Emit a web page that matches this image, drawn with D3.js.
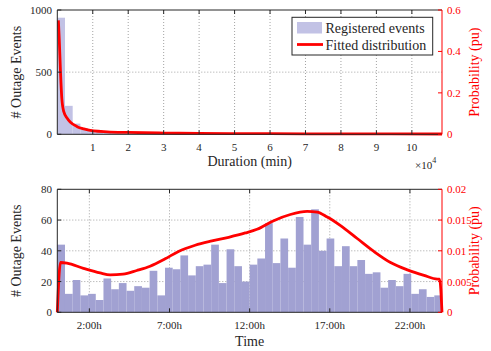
<!DOCTYPE html>
<html>
<head>
<meta charset="utf-8">
<script src="https://cdn.jsdelivr.net/npm/d3@7"></script>
<style>
  body { margin: 0; background: #fff; }
  svg { display: block; font-family: "Liberation Serif", "Times New Roman", serif; }
</style>
</head>
<body>
<svg id="chart" width="491" height="351"></svg>
<script>
// ---- data ----
// top: outage duration histogram (50 bins over 0..108500 min)
const durMax = 108500;
const durCounts = [938, 229, 86, 48, 30, 18, 12, 8, 6, 5, 4, 3, 3, 2, 2, 2, 1, 1, 1, 1,
  1, 1, 0, 1, 0, 0, 1, 0, 0, 0, 0, 1, 0, 0, 0, 0, 0, 0, 0, 0,
  0, 1, 0, 0, 0, 0, 0, 0, 0, 1];
const durFitX = [300, 540, 900, 1270, 1830, 2790, 3720, 5600, 7470, 10280, 14060, 20000, 30000, 40000, 60000, 80000, 108500];
const durFitY = [0.55, 0.463, 0.302, 0.174, 0.109, 0.077, 0.058, 0.037, 0.026, 0.016, 0.012, 0.009, 0.006, 0.004, 0.003, 0.002, 0.0015];
const durTicks = [10000, 20000, 30000, 40000, 50000, 60000, 70000, 80000, 90000, 100000];
const durCountTicks = [0, 500, 1000];
const durProbTicks = [0, 0.2, 0.4, 0.6];

// bottom: time of day histogram (50 bins over 0..24 h)
const timeCounts = [44, 12, 21, 11, 12, 8, 22, 15, 19, 14, 17, 16, 27, 11, 29, 28, 37, 24, 30, 31,
  44, 19, 41, 30, 20, 31, 35, 58, 32, 48, 29, 62, 44, 67, 40, 48, 30, 43, 30, 34,
  25, 26, 16, 21, 17, 25, 12, 15, 10, 11];
const timeFitX = [0, 0.2, 0.6, 1.63, 2.67, 3.3, 4.1, 4.96, 5.79, 6.73, 7.56, 8.6, 9.65, 10.69, 11.73,
  12.46, 13.5, 14.54, 15.59, 16.21, 16.84, 17.67, 18.71, 19.75, 20.79, 21.84, 22.88, 23.71, 23.85, 24];
const timeFitY = [0, 0.0081, 0.008, 0.00715, 0.0064, 0.0061, 0.0062, 0.0068, 0.0075, 0.0087, 0.0099, 0.0109, 0.0116, 0.0122, 0.0129,
  0.0135, 0.0149, 0.0159, 0.0164, 0.0163, 0.0155, 0.0141, 0.012, 0.0099, 0.0081, 0.0069, 0.006, 0.0054, 0.0054, 0];
const timeTicks = [2, 7, 12, 17, 22];
const timeTickLabels = ['2:00h', '7:00h', '12:00h', '17:00h', '22:00h'];
const timeCountTicks = [0, 20, 40, 60, 80];
const timeProbTicks = [0, 0.005, 0.01, 0.015, 0.02];

const svg = d3.select('#chart');
const axisColor = '#262626';
const red = '#ff0000';
const L = 57.3, R = 442;

function panel(o) {
  const g = svg.append('g');
  const x = d3.scaleLinear().domain(o.xDomain).range([L, R]);
  const y = d3.scaleLinear().domain(o.yDomain).range([o.bottom, o.top]);
  const y2 = d3.scaleLinear().domain(o.y2Domain).range([o.bottom, o.top]);

  // dotted grid (left axis only, like matlab)
  o.xTicks.forEach(t => {
    g.append('line').attr('x1', x(t)).attr('x2', x(t)).attr('y1', o.top).attr('y2', o.bottom)
      .attr('stroke', '#8c8c8c').attr('stroke-dasharray', '1,2').attr('stroke-width', 0.8);
  });
  o.yTicks.slice(1, -1).forEach(t => {
    g.append('line').attr('x1', L).attr('x2', R).attr('y1', y(t)).attr('y2', y(t))
      .attr('stroke', '#8c8c8c').attr('stroke-dasharray', '1,2').attr('stroke-width', 0.8);
  });

  // histogram bars
  const bw = (o.xDomain[1] - o.xDomain[0]) / o.counts.length;
  g.selectAll('rect.bar').data(o.counts).enter().append('rect')
    .attr('class', 'bar')
    .attr('x', (d, i) => x(i * bw))
    .attr('width', (d, i) => x((i + 1) * bw) - x(i * bw))
    .attr('y', d => y(d))
    .attr('height', d => y(0) - y(d))
    .attr('fill', o.barColor);

  // fitted curve on right axis
  const pts = o.fitX.map((v, i) => [v, o.fitY[i]]);
  g.append('path').datum(pts)
    .attr('d', d3.line().x(d => x(d[0])).y(d => y2(d[1])).curve(d3.curveMonotoneX))
    .attr('fill', 'none').attr('stroke', red).attr('stroke-width', 2.8)
    .attr('stroke-linejoin', 'round');

  // box
  g.append('line').attr('x1', L).attr('x2', R).attr('y1', o.top).attr('y2', o.top).attr('stroke', axisColor);
  g.append('line').attr('x1', L).attr('x2', R).attr('y1', o.bottom).attr('y2', o.bottom).attr('stroke', axisColor);
  g.append('line').attr('x1', L).attr('x2', L).attr('y1', o.top).attr('y2', o.bottom).attr('stroke', axisColor);
  g.append('line').attr('x1', R).attr('x2', R).attr('y1', o.top).attr('y2', o.bottom).attr('stroke', red);

  // x ticks (inward, top and bottom)
  o.xTicks.forEach((t, i) => {
    g.append('line').attr('x1', x(t)).attr('x2', x(t)).attr('y1', o.bottom).attr('y2', o.bottom - 4).attr('stroke', axisColor);
    g.append('line').attr('x1', x(t)).attr('x2', x(t)).attr('y1', o.top).attr('y2', o.top + 4).attr('stroke', axisColor);
    g.append('text').attr('x', x(t)).attr('y', o.bottom + 17).attr('text-anchor', 'middle')
      .attr('font-size', 11).attr('fill', axisColor).text(o.xFormat(t, i));
  });
  // left ticks
  o.yTicks.forEach(t => {
    g.append('line').attr('x1', L).attr('x2', L + 4).attr('y1', y(t)).attr('y2', y(t)).attr('stroke', axisColor);
    g.append('text').attr('x', 52).attr('y', y(t) + 4).attr('text-anchor', 'end')
      .attr('font-size', 11).attr('fill', axisColor).text(t);
  });
  // right ticks
  o.y2Ticks.forEach(t => {
    g.append('line').attr('x1', R).attr('x2', R - 4).attr('y1', y2(t)).attr('y2', y2(t)).attr('stroke', red);
    g.append('text').attr('x', 447).attr('y', y2(t) + 4).attr('text-anchor', 'start')
      .attr('font-size', 11).attr('fill', red).text(t);
  });

  // axis titles
  const cy = (o.top + o.bottom) / 2;
  g.append('text').attr('transform', `translate(20.5,${cy}) rotate(-90)`).attr('text-anchor', 'middle')
    .attr('font-size', 14).attr('fill', axisColor).text('# Outage Events');
  g.append('text').attr('transform', `translate(479,${cy}) rotate(-90)`).attr('text-anchor', 'middle')
    .attr('font-size', 14).attr('fill', red).text('Probability (pu)');
  g.append('text').attr('x', (L + R) / 2).attr('y', o.xLabelY).attr('text-anchor', 'middle')
    .attr('font-size', 14).attr('fill', axisColor).text(o.xLabel);
  return g;
}

const durPanel = panel({
  xDomain: [0, durMax], yDomain: [0, 1000], y2Domain: [0, 0.6],
  top: 10, bottom: 134.3,
  counts: durCounts, fitX: durFitX, fitY: durFitY,
  xTicks: durTicks, yTicks: durCountTicks, y2Ticks: durProbTicks,
  xFormat: t => t / 10000,
  barColor: '#c2c2e5', xLabel: 'Duration (min)', xLabelY: 165.5
});

// x10^4 exponent
const ex = durPanel.append('text').attr('x', 415).attr('y', 168.5).attr('font-size', 11).attr('fill', axisColor);
ex.append('tspan').text('\u00d710');
ex.append('tspan').attr('font-size', 8).attr('dy', -6).text('4');

// legend
const lg = durPanel.append('g');
lg.append('rect').attr('x', 292).attr('y', 17.3).attr('width', 140.7).attr('height', 37.7)
  .attr('fill', '#fff').attr('stroke', axisColor).attr('stroke-width', 1);
lg.append('rect').attr('x', 297).attr('y', 22).attr('width', 25).attr('height', 11.5).attr('fill', '#c2c2e5');
lg.append('line').attr('x1', 297).attr('x2', 323).attr('y1', 44.5).attr('y2', 44.5)
  .attr('stroke', red).attr('stroke-width', 2.8);
lg.append('text').attr('x', 325.5).attr('y', 33.3).attr('font-size', 14).attr('fill', axisColor).text('Registered events');
lg.append('text').attr('x', 325.5).attr('y', 50).attr('font-size', 14).attr('fill', axisColor).text('Fitted distribution');

panel({
  xDomain: [0, 24], yDomain: [0, 80], y2Domain: [0, 0.02],
  top: 189.3, bottom: 312.3,
  counts: timeCounts, fitX: timeFitX, fitY: timeFitY,
  xTicks: timeTicks, yTicks: timeCountTicks, y2Ticks: timeProbTicks,
  xFormat: (t, i) => timeTickLabels[i],
  barColor: '#a1a1d2', xLabel: 'Time', xLabelY: 346
});
</script>
</body>
</html>
